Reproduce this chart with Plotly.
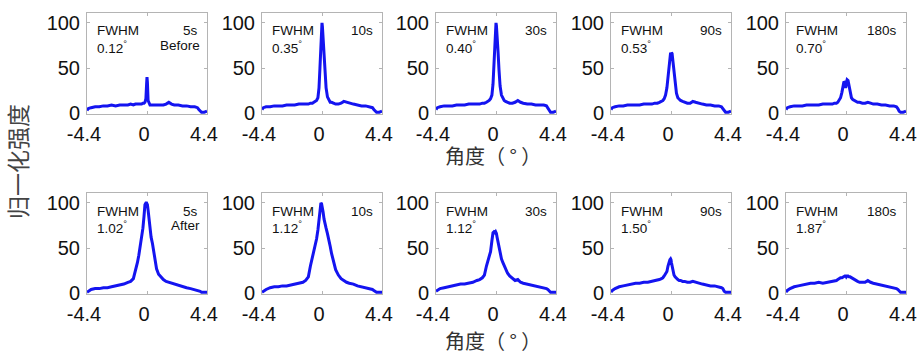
import plotly.graph_objects as go

# ---------------- data ----------------
angle = [-4.4, -4.3, -4.1, -3.8, -3.5, -3.2, -2.9, -2.6, -2.3, -2.0, -1.7, -1.4, -1.2, -1.0,
         -0.85, -0.7, -0.6, -0.5, -0.4, -0.3, -0.22, -0.15, -0.08, -0.03, 0.0, 0.03, 0.08,
         0.15, 0.22, 0.3, 0.4, 0.5, 0.6, 0.7, 0.85, 1.0, 1.2, 1.4, 1.6, 1.8, 2.0, 2.3, 2.6,
         2.9, 3.2, 3.5, 3.7, 3.8, 3.9, 4.0, 4.2, 4.4]

before_5s = [3, 5, 6, 7, 7, 8, 8, 9, 8, 9, 9, 9, 10, 9, 10, 10, 10, 10, 10, 11, 11, 12, 16, 32,
             40, 34, 14, 10, 9, 9, 9, 9, 9, 9, 9, 9, 9, 10, 12, 10, 9, 9, 8, 8, 7, 7, 6, 4, 2, 1, 1, 2]
before_10s = [4, 6, 7, 7, 8, 8, 8, 9, 9, 9, 10, 10, 10, 10, 11, 11, 12, 13, 14, 17, 28, 50, 82, 98,
              100, 96, 85, 65, 45, 28, 18, 14, 12, 12, 11, 10, 10, 11, 13, 12, 11, 10, 9, 8, 8, 7, 6, 4, 2, 1, 1, 2]
before_30s = [4, 6, 7, 8, 8, 8, 9, 9, 9, 10, 10, 10, 10, 11, 11, 12, 13, 14, 16, 20, 32, 55, 85, 98,
              100, 97, 88, 68, 48, 30, 20, 16, 14, 13, 12, 11, 11, 12, 14, 12, 11, 10, 10, 9, 9, 9, 8, 6, 3, 1, 1, 2]
before_90s = [4, 6, 7, 8, 8, 9, 9, 9, 9, 10, 10, 10, 11, 11, 12, 13, 14, 16, 20, 28, 40, 55, 66, 67,
              63, 67, 66, 56, 42, 30, 22, 17, 15, 14, 13, 12, 11, 11, 13, 12, 11, 10, 9, 9, 8, 8, 7, 5, 2, 1, 1, 2]
before_180s = [4, 6, 7, 8, 8, 8, 9, 9, 9, 9, 10, 10, 10, 10, 11, 11, 12, 14, 17, 23, 30, 35, 34, 28,
               30, 34, 37, 36, 30, 22, 17, 15, 14, 13, 12, 12, 11, 11, 12, 11, 10, 10, 9, 9, 8, 8, 7, 5, 2, 1, 1, 2]

after_5s = [1, 2, 4, 5, 5, 6, 6, 7, 8, 9, 10, 12, 13, 16, 24, 34, 42, 52, 60, 72, 85, 98, 100, 100,
            99, 98, 92, 80, 72, 62, 55, 44, 34, 27, 21, 18, 15, 13, 12, 11, 10, 9, 7, 6, 5, 4, 3, 3, 2, 1, 1, 1]
after_10s = [1, 2, 4, 6, 7, 7, 8, 8, 9, 10, 11, 12, 14, 18, 30, 40, 46, 53, 60, 70, 80, 92, 100, 99,
             97, 95, 90, 82, 76, 72, 66, 60, 52, 44, 34, 26, 20, 16, 14, 12, 11, 10, 8, 7, 6, 5, 4, 3, 2, 1, 1, 1]
after_30s = [2, 3, 5, 6, 7, 8, 9, 10, 10, 11, 12, 14, 15, 17, 20, 30, 36, 40, 46, 58, 67, 68, 67, 68,
             67, 66, 62, 56, 50, 44, 38, 34, 30, 26, 22, 19, 16, 14, 15, 12, 11, 10, 9, 8, 7, 6, 5, 4, 2, 1, 1, 1]
after_90s = [1, 3, 5, 7, 8, 9, 10, 11, 11, 12, 12, 13, 13, 14, 15, 16, 17, 19, 21, 24, 30, 35, 37, 38,
             37, 34, 29, 24, 20, 18, 16, 15, 14, 14, 13, 13, 12, 12, 13, 12, 11, 10, 9, 8, 8, 7, 6, 5, 2, 1, 1, 1]
after_180s = [1, 3, 5, 7, 8, 9, 10, 11, 11, 12, 11, 12, 12, 13, 13, 14, 15, 16, 17, 17, 18, 18, 19, 19,
              19, 18, 19, 19, 18, 18, 17, 16, 15, 14, 13, 12, 12, 12, 14, 12, 11, 10, 9, 8, 7, 6, 5, 4, 2, 1, 1, 1]

times = ["5s", "10s", "30s", "90s", "180s"]
fwhm_before = ["0.12", "0.35", "0.40", "0.53", "0.70"]
fwhm_after = ["1.02", "1.12", "1.12", "1.50", "1.87"]
row_notes = ["Before", "After"]
x_tick_vals = [-4.4, 0, 4.4]
x_tick_text = ["-4.4", "0", "4.4"]
y_tick_vals = [0, 50, 100]
x_title = "角度（ ° ）"
y_title = "归一化强度"

# ---------------- layout ----------------
W, H = 918, 355
lefts = [87, 262, 436, 611, 786]
pw = 120
rows_px = [(13, 114), (193, 294)]
LINE = "#1414f0"
FRAME = "#b4b4b4"
TXT = "#111111"
FONT = "Liberation Sans, Arial, sans-serif"
CJK = "Noto Sans CJK SC, sans-serif"

series = [[before_5s, before_10s, before_30s, before_90s, before_180s],
          [after_5s, after_10s, after_30s, after_90s, after_180s]]
fwhms = [fwhm_before, fwhm_after]

fig = go.Figure()
annotations = []
layout_axes = {}
for r in range(2):
    top, bot = rows_px[r]
    ydom = [1 - bot / H, 1 - top / H]
    for c in range(5):
        k = r * 5 + c + 1
        sfx = "" if k == 1 else str(k)
        fig.add_trace(go.Scatter(x=angle, y=series[r][c], mode="lines",
                                 line=dict(color=LINE, width=3), showlegend=False,
                                 xaxis="x" + sfx, yaxis="y" + sfx, hoverinfo="skip"))
        xdom = [lefts[c] / W, (lefts[c] + pw) / W]
        layout_axes["xaxis" + sfx] = dict(
            domain=xdom, anchor="y" + sfx, range=[-4.4, 4.4], automargin=False,
            tickvals=x_tick_vals, ticktext=x_tick_text, ticks="inside", ticklen=3,
            tickcolor=FRAME, showline=True, linecolor=FRAME, linewidth=1, mirror="ticks",
            showgrid=False, zeroline=False, tickfont=dict(family=FONT, size=20, color=TXT),
            ticklabelshift=-3, ticklabelstandoff=2)
        layout_axes["yaxis" + sfx] = dict(
            domain=ydom, anchor="x" + sfx, range=[-1, 111], automargin=False,
            tickvals=y_tick_vals, ticks="inside", ticklen=3,
            tickcolor=FRAME, showline=True, linecolor=FRAME, linewidth=1, mirror="ticks",
            showgrid=False, zeroline=False, tickfont=dict(family=FONT, size=20, color=TXT),
            ticklabelstandoff=2)
        xr = "x" + sfx + " domain"
        yr = "y" + sfx + " domain"
        ph = bot - top
        annotations.append(dict(text="FWHM", xref=xr, yref=yr, x=8 / pw, y=1 - 18 / ph,
                                xanchor="left", yanchor="middle", showarrow=False,
                                font=dict(family=FONT, size=13.5, color=TXT)))
        annotations.append(dict(text=fwhms[r][c] + "<sup>°</sup>", xref=xr, yref=yr,
                                x=8 / pw, y=1 - 34 / ph, xanchor="left", yanchor="middle",
                                showarrow=False, font=dict(family=FONT, size=13.5, color=TXT)))
        annotations.append(dict(text=times[c], xref=xr, yref=yr, x=1 - 7 / pw, y=1 - 18 / ph,
                                xanchor="right", yanchor="middle", showarrow=False,
                                font=dict(family=FONT, size=13.5, color=TXT)))
        if c == 0:
            annotations.append(dict(text=row_notes[r], xref=xr, yref=yr, x=1 - 5 / pw,
                                    y=1 - 32 / ph, xanchor="right", yanchor="middle",
                                    showarrow=False, font=dict(family=FONT, size=13.5, color=TXT)))

for yc in [155, 340]:
    annotations.append(dict(text=x_title, xref="paper", yref="paper", x=493 / W, y=1 - yc / H,
                            xanchor="center", yanchor="middle", showarrow=False,
                            font=dict(family=CJK, size=20, color="#333")))
annotations.append(dict(text=y_title, xref="paper", yref="paper", x=17 / W, y=1 - 162 / H,
                        xanchor="center", yanchor="middle", textangle=-90, showarrow=False,
                        font=dict(family=CJK, size=23, color="#444")))

fig.update_layout(template="none", width=W, height=H, margin=dict(l=0, r=0, t=0, b=0),
                  paper_bgcolor="white", plot_bgcolor="white", showlegend=False,
                  annotations=annotations, **layout_axes)
fig.write_html("out.html", config={"displayModeBar": False, "staticPlot": True},
               post_script="document.body.style.margin='0';document.body.style.overflow='hidden';")
